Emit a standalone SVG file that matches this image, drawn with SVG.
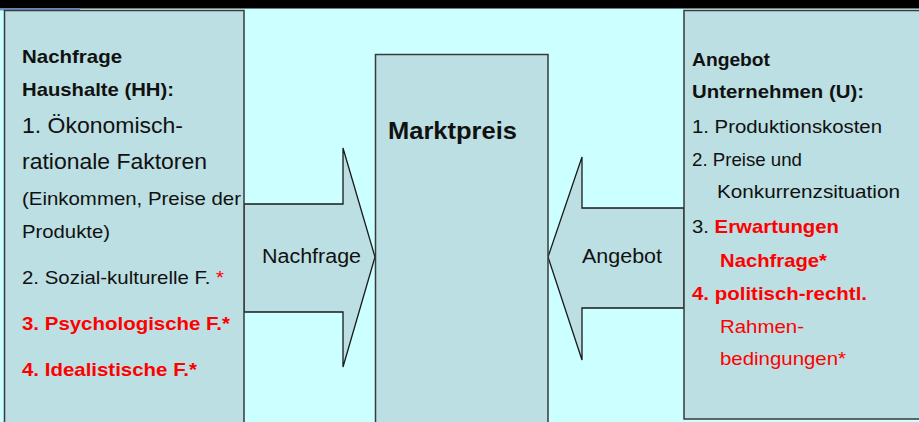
<svg xmlns="http://www.w3.org/2000/svg" width="919" height="422" viewBox="0 0 919 422">
<style>
.box{fill:#BBDFE2;stroke:#3a3a3a;stroke-width:1.5}
.arr{fill:#BBDFE2;stroke:#1a1a1a;stroke-width:1.3;stroke-linejoin:miter}
text{font-family:"Liberation Sans",Arial,sans-serif;fill:#111}
.b{font-weight:bold}
.s{font-size:19px}
.l{font-size:21.5px}
.r{fill:#FF0000}
</style>
<rect x="0" y="0" width="919" height="422" fill="#CCFFFF"/>
<rect x="0" y="0" width="919" height="8.5" fill="#000"/>
<rect x="0" y="8.5" width="80" height="2" fill="#6E93D6"/>

<g id="connectors">
  <g id="arrow-nachfrage">
    <polygon class="arr" points="244,204 343,204 343,148 375,257 343,367 343,312 244,312"/>
    <text x="262" y="263" font-size="20" textLength="99" lengthAdjust="spacingAndGlyphs">Nachfrage</text>
  </g>
  <g id="arrow-angebot">
    <polygon class="arr" points="684,208 582,208 582,157 548,257 582,360 582,308 684,308"/>
    <text x="582" y="263" font-size="20" textLength="80" lengthAdjust="spacingAndGlyphs">Angebot</text>
  </g>
</g>

<g id="node-haushalte">
  <rect class="box" x="4.5" y="10.5" width="239.5" height="420"/>
  <text class="b s" x="22" y="63" textLength="100" lengthAdjust="spacingAndGlyphs">Nachfrage</text>
  <text class="b s" x="22" y="96" textLength="152" lengthAdjust="spacingAndGlyphs">Haushalte (HH):</text>
  <text class="l" x="22" y="133" textLength="161" lengthAdjust="spacingAndGlyphs">1. Ökonomisch-</text>
  <text class="l" x="22" y="169" textLength="185" lengthAdjust="spacingAndGlyphs">rationale Faktoren</text>
  <text class="s" x="22" y="205" textLength="219" lengthAdjust="spacingAndGlyphs">(Einkommen, Preise der</text>
  <text class="s" x="22" y="238" textLength="88" lengthAdjust="spacingAndGlyphs">Produkte)</text>
  <text class="s" x="22" y="284" textLength="202" lengthAdjust="spacingAndGlyphs">2. Sozial-kulturelle F. <tspan class="r">*</tspan></text>
  <text class="b s r" x="22" y="330" textLength="208" lengthAdjust="spacingAndGlyphs">3. Psychologische F.*</text>
  <text class="b s r" x="22" y="376" textLength="175" lengthAdjust="spacingAndGlyphs">4. Idealistische F.*</text>
</g>

<g id="node-marktpreis">
  <rect class="box" x="375.5" y="54.5" width="172.5" height="380"/>
  <text class="b" x="388" y="139" font-size="24" textLength="129" lengthAdjust="spacingAndGlyphs">Marktpreis</text>
</g>

<g id="node-unternehmen">
  <rect class="box" x="684" y="10.5" width="245" height="408.5"/>
  <text class="b s" x="692" y="66" textLength="78" lengthAdjust="spacingAndGlyphs">Angebot</text>
  <text class="b s" x="692" y="98" textLength="172" lengthAdjust="spacingAndGlyphs">Unternehmen (U):</text>
  <text class="s" x="692" y="133" textLength="190" lengthAdjust="spacingAndGlyphs">1. Produktionskosten</text>
  <text class="s" x="692" y="166" textLength="110" lengthAdjust="spacingAndGlyphs">2. Preise und</text>
  <text class="s" x="717" y="198" textLength="183" lengthAdjust="spacingAndGlyphs">Konkurrenzsituation</text>
  <text class="s" x="692" y="233" textLength="147" lengthAdjust="spacingAndGlyphs">3. <tspan class="b r">Erwartungen</tspan></text>
  <text class="b s r" x="720" y="267" textLength="107" lengthAdjust="spacingAndGlyphs">Nachfrage*</text>
  <text class="b s r" x="692" y="300" textLength="175" lengthAdjust="spacingAndGlyphs">4. politisch-rechtl.</text>
  <text class="s r" x="720" y="333" textLength="84" lengthAdjust="spacingAndGlyphs">Rahmen-</text>
  <text class="s r" x="720" y="365" textLength="126" lengthAdjust="spacingAndGlyphs">bedingungen*</text>
</g>
</svg>
